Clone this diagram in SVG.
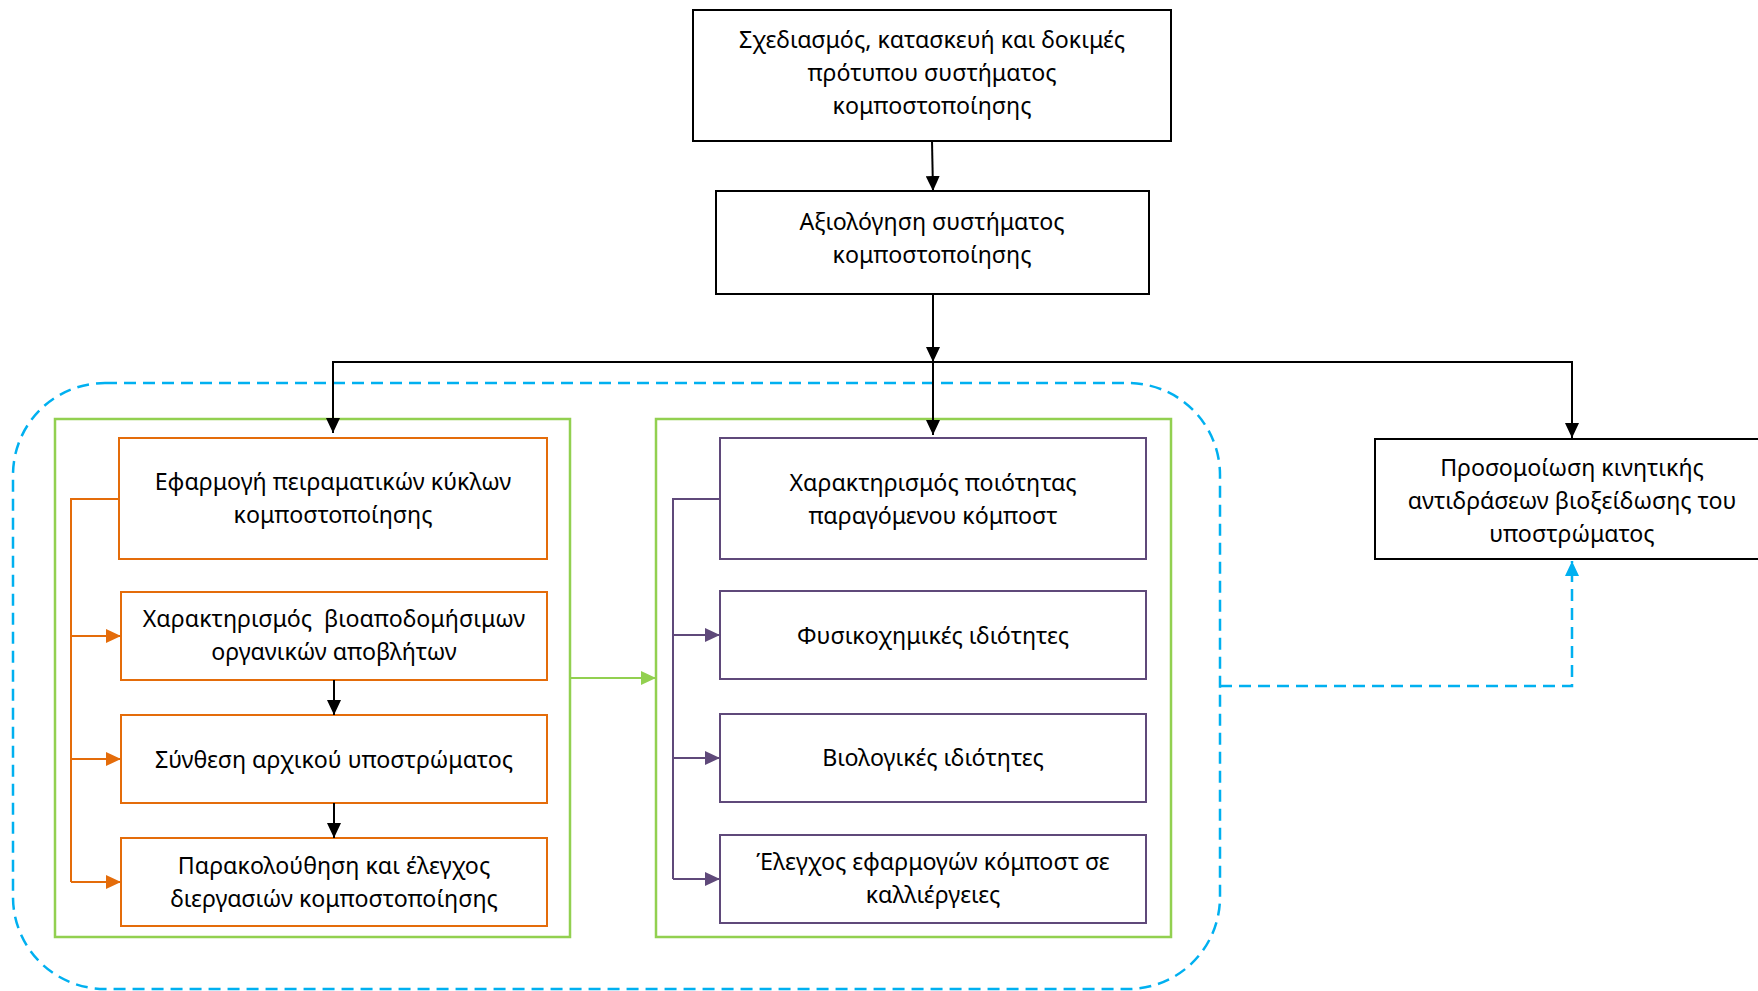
<svg xmlns="http://www.w3.org/2000/svg" width="1758" height="991" viewBox="0 0 1758 991">
<style>
text{font-family:"Noto Sans","Open Sans","DejaVu Sans",sans-serif;font-size:23.2px;fill:#000;text-anchor:middle}
.blk{fill:#fff;stroke:#000;stroke-width:2}
.org{fill:#fff;stroke:#E46C0A;stroke-width:2}
.pur{fill:#fff;stroke:#5F497A;stroke-width:2}
.grn{fill:none;stroke:#92D050;stroke-width:2.5}
.cb{fill:none;stroke:#000;stroke-width:2}
.co{fill:none;stroke:#E46C0A;stroke-width:2}
.cp{fill:none;stroke:#5F497A;stroke-width:2}
.cg{fill:none;stroke:#92D050;stroke-width:2}
.cd{fill:none;stroke:#00B0F0;stroke-width:2.5;stroke-dasharray:12 7}
</style>
<defs>
<marker id="ab" markerUnits="userSpaceOnUse" markerWidth="15" markerHeight="14" refX="15" refY="7" orient="auto"><path d="M0,0L15,7L0,14z" fill="#000"/></marker>
<marker id="ao" markerUnits="userSpaceOnUse" markerWidth="15" markerHeight="14" refX="15" refY="7" orient="auto"><path d="M0,0L15,7L0,14z" fill="#E46C0A"/></marker>
<marker id="ap" markerUnits="userSpaceOnUse" markerWidth="15" markerHeight="14" refX="15" refY="7" orient="auto"><path d="M0,0L15,7L0,14z" fill="#5F497A"/></marker>
<marker id="ag" markerUnits="userSpaceOnUse" markerWidth="15" markerHeight="14" refX="15" refY="7" orient="auto"><path d="M0,0L15,7L0,14z" fill="#92D050"/></marker>
<marker id="ad" markerUnits="userSpaceOnUse" markerWidth="15" markerHeight="14" refX="15" refY="7" orient="auto"><path d="M0,0L15,7L0,14z" fill="#00B0F0"/></marker>
</defs>
<rect width="1758" height="991" fill="#fff"/>

<g id="group-dashed">
<rect x="13" y="383" width="1207" height="606" rx="92" ry="92" class="cd"/>
</g>
<g id="group-left"><rect x="55" y="419" width="515" height="518" class="grn"/></g>
<g id="group-right"><rect x="656" y="419" width="515" height="518" class="grn"/></g>

<g id="n-design">
<rect x="693" y="10" width="478" height="131" class="blk"/>
<text x="932" y="48">Σχεδιασμός, κατασκευή και δοκιμές</text>
<text x="932" y="81">πρότυπου συστήματος</text>
<text x="932" y="114">κομποστοποίησης</text>
</g>
<g id="n-eval">
<rect x="716" y="191" width="433" height="103" class="blk"/>
<text x="932" y="230">Αξιολόγηση συστήματος</text>
<text x="932" y="263">κομποστοποίησης</text>
</g>
<g id="n-sim">
<rect x="1375" y="439" width="400" height="120" class="blk"/>
<text x="1572" y="476">Προσομοίωση κινητικής</text>
<text x="1572" y="509">αντιδράσεων βιοξείδωσης του</text>
<text x="1572" y="542">υποστρώματος</text>
</g>

<g id="n-o1">
<rect x="119" y="438" width="428" height="121" class="org"/>
<text x="333" y="490">Εφαρμογή πειραματικών κύκλων</text>
<text x="333" y="523">κομποστοποίησης</text>
</g>
<g id="n-o2">
<rect x="121" y="592" width="426" height="88" class="org"/>
<text x="334" y="627" xml:space="preserve">Χαρακτηρισμός  βιοαποδομήσιμων</text>
<text x="334" y="660">οργανικών αποβλήτων</text>
</g>
<g id="n-o3">
<rect x="121" y="715" width="426" height="88" class="org"/>
<text x="334" y="768">Σύνθεση αρχικού υποστρώματος</text>
</g>
<g id="n-o4">
<rect x="121" y="838" width="426" height="88" class="org"/>
<text x="334" y="874">Παρακολούθηση και έλεγχος</text>
<text x="334" y="907">διεργασιών κομποστοποίησης</text>
</g>

<g id="n-p1">
<rect x="720" y="438" width="426" height="121" class="pur"/>
<text x="933" y="491">Χαρακτηρισμός ποιότητας</text>
<text x="933" y="524">παραγόμενου κόμποστ</text>
</g>
<g id="n-p2">
<rect x="720" y="591" width="426" height="88" class="pur"/>
<text x="933" y="644">Φυσικοχημικές ιδιότητες</text>
</g>
<g id="n-p3">
<rect x="720" y="714" width="426" height="88" class="pur"/>
<text x="933" y="766">Βιολογικές ιδιότητες</text>
</g>
<g id="n-p4">
<rect x="720" y="835" width="426" height="88" class="pur"/>
<text x="933" y="870">Έλεγχος εφαρμογών κόμποστ σε</text>
<text x="933" y="903">καλλιέργειες</text>
</g>

<g id="connectors">
<path d="M932,141L933,191" class="cb" marker-end="url(#ab)"/>
<path d="M933,294V362" class="cb" stroke-width="3" marker-end="url(#ab)"/>
<path d="M933,362H333V433" class="cb" marker-end="url(#ab)"/>
<path d="M933,362H1572V438" class="cb" marker-end="url(#ab)"/>
<path d="M933,362V435" class="cb" marker-end="url(#ab)"/>
<path d="M334,680V715" class="cb" marker-end="url(#ab)"/>
<path d="M334,803V838" class="cb" marker-end="url(#ab)"/>
<path d="M119,499H71V882" class="co"/>
<path d="M71,636H121" class="co" marker-end="url(#ao)"/>
<path d="M71,759H121" class="co" marker-end="url(#ao)"/>
<path d="M71,882H121" class="co" marker-end="url(#ao)"/>
<path d="M720,499H673V879" class="cp"/>
<path d="M673,635H720" class="cp" marker-end="url(#ap)"/>
<path d="M673,758H720" class="cp" marker-end="url(#ap)"/>
<path d="M673,879H720" class="cp" marker-end="url(#ap)"/>
<path d="M570,678H656" class="cg" marker-end="url(#ag)"/>
<path d="M1220,686H1572V561" class="cd" marker-end="url(#ad)"/>
</g>
</svg>
